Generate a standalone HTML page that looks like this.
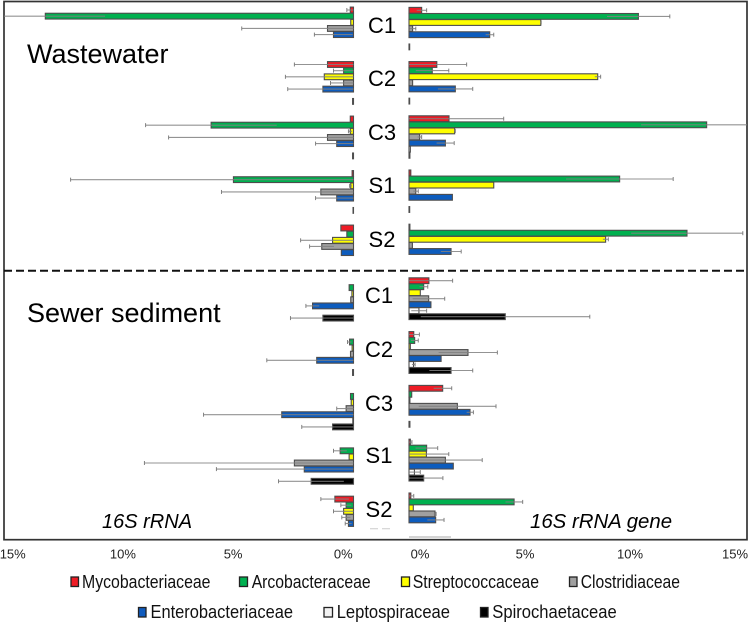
<!DOCTYPE html>
<html lang="en">
<head>
<meta charset="utf-8">
<title>Bacterial family relative abundance</title>
<style>
html,body{margin:0;padding:0;background:#fff;width:749px;height:623px;overflow:hidden}
svg{display:block;font-family:"Liberation Sans",sans-serif}
</style>
</head>
<body>
<svg id="chart" xmlns="http://www.w3.org/2000/svg" width="749" height="623" viewBox="0 0 749 623">
  <defs>
    <clipPath id="frame-clip"><rect x="4" y="2" width="743" height="537.5"/></clipPath>
    <filter id="soft" x="-5%" y="-5%" width="110%" height="110%"><feGaussianBlur stdDeviation="0.35"/></filter>
  </defs>
  <rect x="4" y="1.5" width="743" height="538.2" fill="#fff" stroke="#333" stroke-width="1.7"/>
  <g id="marks" clip-path="url(#frame-clip)" filter="url(#soft)"></g>
  <line x1="4" x2="747" y1="270.7" y2="270.7" stroke="#111" stroke-width="2" stroke-dasharray="8 4"/>
  <line x1="409" x2="451" y1="537" y2="537" stroke="#aaa" stroke-width="1"/>
  <line x1="370" x2="391" y1="528.7" y2="528.7" stroke="#ccc" stroke-width="1" stroke-dasharray="8 4"/>

  <text x="27" y="63" font-size="27" fill="#000">Wastewater</text>
  <text x="27" y="322" font-size="27" fill="#000">Sewer sediment</text>
  <text x="102" y="528" font-size="20" font-style="italic" fill="#000">16S rRNA</text>
  <text x="530" y="528" font-size="20.4" font-style="italic" fill="#000">16S rRNA gene</text>

  <g font-size="22" fill="#000" text-anchor="middle">
    <text x="382" y="33">C1</text>
    <text x="382" y="86">C2</text>
    <text x="382" y="140">C3</text>
    <text x="382" y="193">S1</text>
    <text x="382" y="247">S2</text>
    <text x="379" y="303">C1</text>
    <text x="379" y="357">C2</text>
    <text x="379" y="411">C3</text>
    <text x="379" y="463">S1</text>
    <text x="379" y="517">S2</text>
  </g>

  <g id="ticks"></g>

  <g font-size="18.5" fill="#111">
    <g><rect x="71" y="577" width="7.5" height="9.5" fill="#ee1c25" stroke="#222" stroke-width="1.3"/><text x="82" y="588" textLength="128.5" lengthAdjust="spacingAndGlyphs">Mycobacteriaceae</text></g>
    <g><rect x="239.5" y="577" width="8" height="9.5" fill="#00b050" stroke="#222" stroke-width="1.3"/><text x="251.7" y="588" textLength="119" lengthAdjust="spacingAndGlyphs">Arcobacteraceae</text></g>
    <g><rect x="401.5" y="577" width="8" height="9.5" fill="#ffff00" stroke="#222" stroke-width="1.3"/><text x="412.7" y="588" textLength="126.3" lengthAdjust="spacingAndGlyphs">Streptococcaceae</text></g>
    <g><rect x="569.5" y="577" width="7.5" height="9.5" fill="#a0a0a0" stroke="#222" stroke-width="1.3"/><text x="580.7" y="588" textLength="99.3" lengthAdjust="spacingAndGlyphs">Clostridiaceae</text></g>
    <g><rect x="138.5" y="607.5" width="7.5" height="9.5" fill="#0f5bbd" stroke="#222" stroke-width="1.3"/><text x="150.5" y="618" textLength="142.5" lengthAdjust="spacingAndGlyphs">Enterobacteriaceae</text></g>
    <g><rect x="324" y="607.5" width="8.5" height="9.5" fill="#f2f2f2" stroke="#222" stroke-width="1.3"/><text x="336.7" y="618" textLength="113.3" lengthAdjust="spacingAndGlyphs">Leptospiraceae</text></g>
    <g><rect x="480.5" y="607.5" width="7.5" height="9.5" fill="#000" stroke="#222" stroke-width="1.3"/><text x="492.3" y="618" textLength="124.4" lengthAdjust="spacingAndGlyphs">Spirochaetaceae</text></g>
  </g>
</svg>
<script>
// Chart data: percent values. Rows are samples, columns are families.
const samples = ['C1','C2','C3','S1','S2'];
const families = ['mycobacteriaceae','arcobacteraceae','streptococcaceae','clostridiaceae','enterobacteriaceae','leptospiraceae','spirochaetaceae'];
const familyColors = ['#ee1c25','#00b050','#ffff00','#a0a0a0','#0f5bbd','#ffffff','#000000'];
const tickLabels = ['0%','5%','10%','15%'];
const tickPercents = [0,5,10,15];

const wastewaterRnaValues = [
  [.14,13.4,.12,1.13,.87,0,0],
  [1.13,.43,1.27,.43,1.33,0,.04],
  [.14,6.19,.14,1.13,.73,0,.04],
  [.06,5.22,.12,1.42,.73,0,.02],
  [.55,.29,.91,1.38,.53,0,0]
];
const wastewaterRnaErrors = [
  [.15,2.6,0,3.73,.83,0,0],
  [1.44,.44,1.69,.57,1.53,0,0],
  [0,2.85,.08,6.91,.92,0,0],
  [0,7.08,.05,4.32,.92,0,0],
  [0,0,1.39,.53,0,0,0]
];
const sedimentRnaValues = [
  [0,.19,.07,.12,1.78,0,1.33],
  [0,.17,.06,.13,1.6,0,.04],
  [0,.13,.1,.32,3.12,.03,.91],
  [0,.58,.19,2.57,2.14,0,1.84],
  [.81,.32,.43,.32,.22,0,0]
];
const sedimentRnaErrors = [
  [0,0,0,0,.29,0,1.41],
  [0,.09,0,0,2.17,0,0],
  [0,0,0,.41,3.4,0,1.34],
  [0,.29,0,6.52,3.82,0,1.42],
  [.61,.23,.44,.19,.14,0,0]
];
const wastewaterGeneValues = [
  [.56,10.15,5.83,.16,3.57,0,.03],
  [1.23,1.03,8.35,.16,2.05,0,.03],
  [1.77,13.17,2.02,.47,1.61,.06,.04],
  [.08,9.32,3.75,.3,1.92,0,.03],
  [.04,12.3,8.7,.15,1.86,0,0]
];
const wastewaterGeneErrors = [
  [.22,1.39,.02,.14,.18,0,0],
  [1.32,.73,.13,0,.77,0,0],
  [2.42,2.9,.03,.09,.39,0,0],
  [0,2.37,0,.11,0,0,0],
  [0,2.47,.12,0,.45,0,0]
];
const sedimentGeneValues = [
  [.88,.65,.5,.87,.97,.44,4.26],
  [.21,.25,.06,2.61,1.42,.2,1.86],
  [1.49,.12,.04,2.14,2.7,0,.04],
  [.06,.78,.77,1.61,1.96,.24,.65],
  [.08,4.65,.19,1.15,1.18,0,0]
];
const sedimentGeneErrors = [
  [1.05,.18,0,.71,0,.34,3.74],
  [.25,.16,0,1.3,0,.07,.96],
  [.4,0,0,1.71,.15,0,0],
  [.07,.49,.99,1.63,0,.26,.85],
  [.13,.38,0,.05,.37,0,0]
];

const NS = 'http://www.w3.org/2000/svg';
const marks = document.getElementById('marks');
const ticks = document.getElementById('ticks');

// Axis functions
function xLeft(p){ return 353.5 - p * 23; }
function xRight(p){ return 409 + p * 22.6; }
function tickLeft(p){ return 343.3 - p * 22.04; }
function tickRight(p){ return 420 + p * 21; }

function make(tag, attrs, parent){
  const el = document.createElementNS(NS, tag);
  for (const k in attrs) el.setAttribute(k, attrs[k]);
  parent.appendChild(el);
  return el;
}

function drawPanel(panelName, values, errors, xFn, firstY, groupStep, rowStep){
  values.forEach(function(row, s){
    row.forEach(function(v, f){
      const y = firstY + s * groupStep + f * rowStep;
      const x0 = xFn(0);
      const e = errors[s][f];
      if (v > 0) {
        const x1 = xFn(v);
        const bar = make('rect', {
          x: Math.min(x0, x1), y: y - 2.9,
          width: Math.abs(x1 - x0), height: 5.8,
          fill: familyColors[f], stroke: '#4d4d4d', 'stroke-width': 1.1
        }, marks);
        
        
      }
      if (e > 0) {
        const hi = xFn(v + e), lo = xFn(Math.max(v - e, 0));
        const line = make('line', {
          x1: lo, x2: hi, y1: y, y2: y,
          stroke: '#808080', 'stroke-width': 1.1, 'stroke-opacity': 0.85
        }, marks);
        
        
        const cap = make('line', {
          x1: hi, x2: hi, y1: y - 2, y2: y + 2,
          stroke: '#808080', 'stroke-width': 1
        }, marks);
        
        
      }
    });
  });
}

drawPanel('wastewater-rna', wastewaterRnaValues, wastewaterRnaErrors, xLeft, 10, 54.5, 6.15);
drawPanel('sediment-rna', sedimentRnaValues, sedimentRnaErrors, xLeft, 281.5, 54.4, 6.1);
drawPanel('wastewater-gene', wastewaterGeneValues, wastewaterGeneErrors, xRight, 10.3, 54.2, 6.1);
drawPanel('sediment-gene', sedimentGeneValues, sedimentGeneErrors, xRight, 280.7, 53.8, 6);

tickPercents.forEach(function(p, i){
  const l = make('text', {x: tickLeft(p), y: 558.3, 'font-size': 13, fill: '#222', 'text-anchor': 'middle'}, ticks);
  l.textContent = tickLabels[i];
  
  
  const r = make('text', {x: tickRight(p), y: 558.3, 'font-size': 13, fill: '#222', 'text-anchor': 'middle'}, ticks);
  r.textContent = tickLabels[i];
  
  
});
</script>
</body>
</html>
